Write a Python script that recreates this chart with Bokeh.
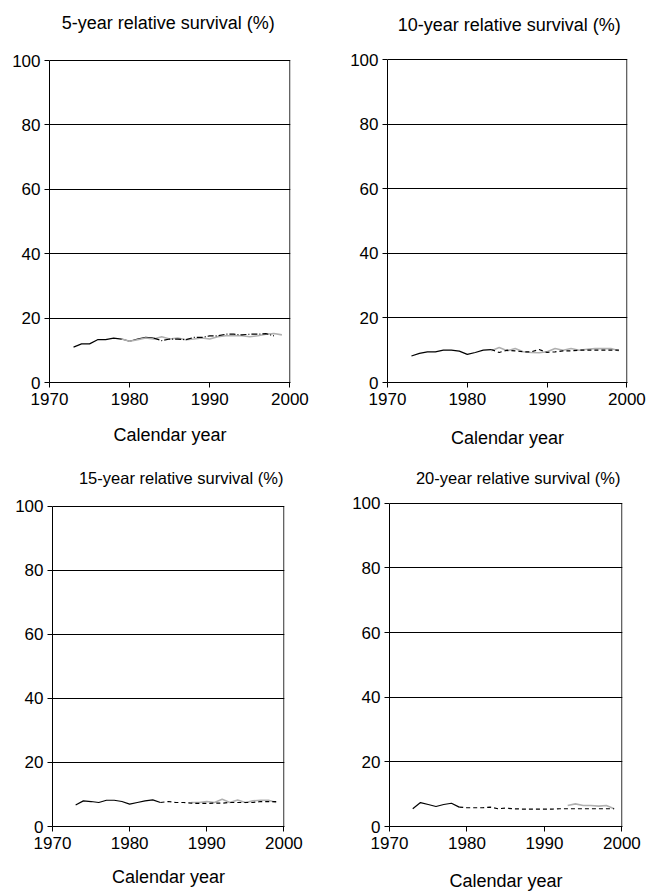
from bokeh.plotting import figure
from bokeh.layouts import column, row
from bokeh.models import FixedTicker
from bokeh.core.properties import value
from bokeh.embed import file_html
from bokeh.resources import INLINE

FONT = "Liberation Sans"

titles = ["5-year relative survival (%)", "10-year relative survival (%)",
          "15-year relative survival (%)", "20-year relative survival (%)"]
x_label = "Calendar year"
x_ticks = [1970, 1980, 1990, 2000]
y_ticks = [0, 20, 40, 60, 80, 100]
x_start, x_end = 1970, 2000
y_start, y_end = 0, 100

# 5-year
y5_a_years = [1973, 1974, 1975, 1976, 1977, 1978, 1979, 1980, 1981, 1982, 1983]
y5_a = [11.0, 12.0, 12.0, 13.3, 13.3, 13.8, 13.5, 12.8, 13.5, 14.0, 13.8]
y5_b_years = [1983, 1984, 1985, 1986, 1987, 1988, 1989, 1990, 1991, 1992, 1993, 1994, 1995, 1996, 1997, 1998]
y5_b = [13.8, 13.0, 13.5, 13.5, 13.3, 14.0, 14.0, 14.5, 14.5, 15.0, 15.0, 14.8, 15.0, 15.0, 15.2, 14.5]
y5_c_years = [1979, 1980, 1981, 1982, 1983, 1984, 1985, 1986, 1987, 1988, 1989, 1990, 1991, 1992, 1993, 1994, 1995, 1996, 1997, 1998, 1999]
y5_c = [13.5, 12.8, 13.3, 13.8, 13.5, 14.2, 13.5, 13.8, 13.3, 13.5, 13.8, 13.5, 14.2, 14.5, 14.5, 14.5, 14.2, 14.5, 15.0, 15.2, 14.8]

# 10-year
y10_a_years = [1973, 1974, 1975, 1976, 1977, 1978, 1979, 1980, 1981, 1982, 1983]
y10_a = [8.2, 9.0, 9.5, 9.5, 10.0, 10.0, 9.7, 8.7, 9.3, 10.0, 10.2]
y10_b_years = [1983, 1984, 1985, 1986, 1987, 1988, 1989, 1990, 1991, 1992, 1993, 1994, 1995, 1996, 1997, 1998, 1999]
y10_b = [10.2, 9.3, 10.0, 9.8, 9.5, 9.5, 10.2, 9.3, 9.5, 9.8, 9.8, 10.0, 10.0, 10.0, 10.0, 10.0, 10.0]
y10_c_years = [1983, 1984, 1985, 1986, 1987, 1988, 1989, 1990, 1991, 1992, 1993, 1994, 1995, 1996, 1997, 1998, 1999]
y10_c = [9.8, 10.8, 9.8, 10.5, 9.5, 9.3, 9.2, 9.5, 10.5, 10.0, 10.5, 10.0, 10.3, 10.5, 10.5, 10.5, 9.8]

# 15-year
y15_a_years = [1973, 1974, 1975, 1976, 1977, 1978, 1979, 1980, 1981, 1982, 1983, 1984]
y15_a = [6.7, 8.0, 7.8, 7.5, 8.2, 8.2, 7.8, 7.0, 7.5, 8.0, 8.3, 7.5]
y15_b_years = [1984, 1985, 1986, 1987, 1988, 1989, 1990, 1991, 1992, 1993, 1994, 1995, 1996, 1997, 1998, 1999]
y15_b = [7.5, 7.8, 7.5, 7.5, 7.3, 7.2, 7.2, 7.3, 7.3, 7.5, 7.5, 7.5, 7.5, 7.8, 7.8, 7.8]
y15_c_years = [1988, 1989, 1990, 1991, 1992, 1993, 1994, 1995, 1996, 1997, 1998, 1999]
y15_c = [7.5, 7.5, 7.8, 7.5, 8.5, 7.5, 8.3, 7.5, 8.0, 8.2, 8.2, 7.5]

# 20-year
y20_a_years = [1973, 1974, 1975, 1976, 1977, 1978, 1979]
y20_a = [5.5, 7.4, 6.8, 6.2, 6.8, 7.2, 6.0]
y20_b_years = [1979, 1980, 1981, 1982, 1983, 1984, 1985, 1986, 1987, 1988, 1989, 1990, 1991, 1992, 1993, 1994, 1995, 1996, 1997, 1998, 1999]
y20_b = [6.0, 5.8, 5.8, 5.8, 6.0, 5.5, 5.7, 5.5, 5.4, 5.4, 5.4, 5.4, 5.4, 5.5, 5.5, 5.5, 5.5, 5.5, 5.5, 5.5, 5.5]
y20_c_years = [1993, 1994, 1995, 1996, 1997, 1998, 1999]
y20_c = [6.5, 7.0, 6.5, 6.5, 6.3, 6.5, 5.5]

# layout (pixels): figure size, left/right/bottom borders, gap from figure top to the 100 line,
# title centre from figure top, title centre x in pixels from frame left
panels = [
    dict(a=(y5_a_years, y5_a), b=(y5_b_years, y5_b), c=(y5_c_years, y5_c), b_dash="6 2 1 2",
         w=330, h=455, l=49, r=40, bm=73, gap=60, t_cy=22, t_cx=119, t_fs="18px", lab_st=17),
    dict(a=(y10_a_years, y10_a), b=(y10_b_years, y10_b), c=(y10_c_years, y10_c), b_dash="4 3",
         w=323, h=455, l=57, r=26, bm=73, gap=59, t_cy=24, t_cx=122, t_fs="18px", lab_st=20),
    dict(a=(y15_a_years, y15_a), b=(y15_b_years, y15_b), c=(y15_c_years, y15_c), b_dash="4 3",
         w=330, h=438, l=52, r=46, bm=66, gap=51, t_cy=23, t_cx=129, t_fs="16.5px", lab_st=15),
    dict(a=(y20_a_years, y20_a), b=(y20_b_years, y20_b), c=(y20_c_years, y20_c), b_dash="4 3",
         w=323, h=438, l=59, r=31, bm=66, gap=48, t_cy=23, t_cx=129, t_fs="16.5px", lab_st=19),
]

figs = []
for title, pd_ in zip(titles, panels):
    fw = pd_["w"] - pd_["l"] - pd_["r"]
    fh = pd_["h"] - pd_["bm"]
    ppu_y = (fh - pd_["gap"]) / (y_end - y_start)
    ppu_x = fw / (x_end - x_start)
    y_top = y_end + pd_["gap"] / ppu_y
    x_right = x_end + 0.6 / ppu_x
    p = figure(width=pd_["w"], height=pd_["h"], x_range=(x_start, x_right), y_range=(y_start, y_top),
               output_backend="svg", toolbar_location=None,
               min_border_left=pd_["l"], min_border_right=pd_["r"],
               min_border_top=0, min_border_bottom=pd_["bm"])
    p.background_fill_color = "white"
    p.border_fill_color = "white"
    p.outline_line_color = None
    p.xgrid.visible = False
    p.ygrid.grid_line_color = "black"
    p.ygrid.grid_line_width = 1
    p.ygrid.ticker = FixedTicker(ticks=y_ticks)
    for ax in (p.xaxis[0], p.yaxis[0]):
        ax.axis_line_color = "black"
        ax.major_tick_line_color = "black"
        ax.major_tick_in = 0
        ax.major_tick_out = 5
        ax.minor_tick_line_color = None
        ax.major_label_text_font = FONT
        ax.major_label_text_font_size = "17px"
        ax.major_label_text_color = "black"
    p.yaxis.bounds = (y_start, y_end)
    p.xaxis.ticker = FixedTicker(ticks=x_ticks)
    p.yaxis.ticker = FixedTicker(ticks=y_ticks)
    p.xaxis.major_label_standoff = 5
    p.yaxis.major_label_standoff = 4
    p.xaxis.axis_label = x_label
    p.xaxis.axis_label_text_font = FONT
    p.xaxis.axis_label_text_font_size = "18px"
    p.xaxis.axis_label_text_font_style = "normal"
    p.xaxis.axis_label_text_color = "black"
    p.xaxis.axis_label_standoff = pd_["lab_st"]

    # right-hand border of the plot area
    p.segment(x0=[x_end], y0=[y_start], x1=[x_end], y1=[y_end], line_color="black", line_width=1)

    ya, yv = pd_["a"]
    p.line(ya, yv, line_color="black", line_width=1.2)
    yc, cv = pd_["c"]
    p.line(yc, cv, line_color="#b0b0b0", line_width=1.6)
    yb, bv = pd_["b"]
    p.line(yb, bv, line_color="black", line_width=1.2, line_dash=pd_["b_dash"])

    tx = x_start + pd_["t_cx"] / ppu_x
    ty = y_end + (pd_["gap"] - pd_["t_cy"]) / ppu_y
    p.text(x=[tx], y=[ty], text=[title], text_align="center", text_baseline="middle",
           text_font=value(FONT), text_font_size=pd_["t_fs"], text_color="black")
    figs.append(p)

layout = column(row(figs[0], figs[1]), row(figs[2], figs[3]))
open("out.html", "w").write(file_html(layout, INLINE))
